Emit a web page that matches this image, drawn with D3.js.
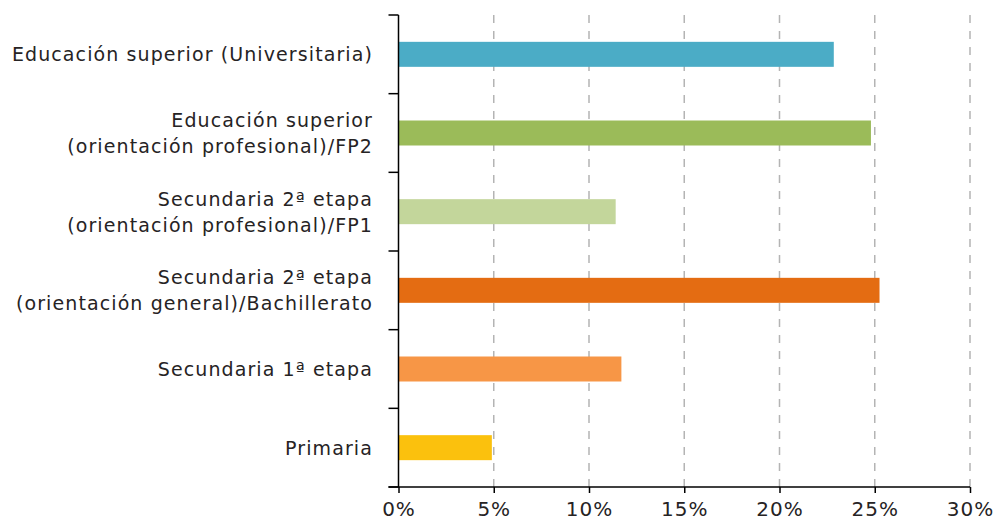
<!DOCTYPE html>
<html>
<head>
<meta charset="utf-8">
<script src="https://cdn.jsdelivr.net/npm/d3@7"></script>
<style>
  body { margin: 0; background: #fff; }
  text { font-family: "DejaVu Sans", sans-serif; fill: #262324; }
  .grid line { stroke: #b4b4b4; stroke-width: 1.5; stroke-dasharray: 8 8; }
</style>
</head>
<body>
<div id="chart"></div>
<script>
// categories top to bottom, each label split in lines
var categories = [
  ["Educación superior (Universitaria)"],
  ["Educación superior", "(orientación profesional)/FP2"],
  ["Secundaria 2ª etapa", "(orientación profesional)/FP1"],
  ["Secundaria 2ª etapa", "(orientación general)/Bachillerato"],
  ["Secundaria 1ª etapa"],
  ["Primaria"]
];
var values = [22.85, 24.8, 11.4, 25.25, 11.7, 4.9];
var colors = ["#4bacc6", "#9bbb59", "#c3d69b", "#e46c12", "#f79646", "#fbc10d"];
var xTicks = [0, 5, 10, 15, 20, 25, 30];

var width = 996, height = 521;
var margin = { top: 15, right: 26, bottom: 34, left: 398.5 };

var svg = d3.select("#chart")
    .append("svg")
    .attr("width", width)
    .attr("height", height)

var x = d3.scaleLinear()
    .domain([0, 30])
    .range([margin.left, width - margin.right])

var y = d3.scaleBand()
    .domain(d3.range(categories.length))
    .range([margin.top, height - margin.bottom])

// dashed gridlines
svg.append("g")
    .attr("class", "grid")
    .selectAll("line")
    .data(xTicks.slice(1))
    .enter()
    .append("line")
    .attr("x1", d => x(d))
    .attr("x2", d => x(d))
    .attr("y1", margin.top)
    .attr("y2", height - margin.bottom)

var barH = 25;
svg.selectAll("rect.bar")
    .data(values)
    .enter()
    .append("rect")
    .attr("class", "bar")
    .attr("x", x(0))
    .attr("y", (d, i) => y(i) + y.bandwidth() / 2 - barH / 2)
    .attr("width", d => x(d) - x(0))
    .attr("height", barH)
    .attr("fill", (d, i) => colors[i])

// y axis: line with ticks on band edges
var yAxis = svg.append("g")
var edges = d3.range(categories.length + 1).map(i => margin.top + i * y.bandwidth())
yAxis.append("line")
    .attr("x1", x(0)).attr("x2", x(0))
    .attr("y1", margin.top).attr("y2", height - margin.bottom)
    .attr("stroke", "#000").attr("stroke-width", 1.5)
yAxis.selectAll("line.tick")
    .data(edges)
    .enter()
    .append("line")
    .attr("class", "tick")
    .attr("x1", x(0) - 10).attr("x2", x(0))
    .attr("y1", d => d).attr("y2", d => d)
    .attr("stroke", "#000").attr("stroke-width", 1.5)

// category labels
var labels = svg.selectAll("text.cat")
    .data(categories)
    .enter()
    .append("text")
    .attr("class", "cat")
    .attr("text-anchor", "end")
    .attr("font-size", "19px")
    .attr("letter-spacing", "1.1px")
    .attr("transform", (d, i) => "translate(" + 373 + "," + (y(i) + y.bandwidth() / 2) + ")")
labels.selectAll("tspan")
    .data(d => d.map((t, j) => ({ t: t, j: j, n: d.length })))
    .enter()
    .append("tspan")
    .attr("x", 0)
    .attr("y", d => (d.j - (d.n - 1) / 2) * 26)
    .attr("dy", "0.37em")
    .text(d => d.t)

// x axis
var xAxis = d3.axisBottom(x)
    .tickValues(xTicks)
    .tickFormat(d => d + "%")
    .tickSize(6)
    .tickPadding(9)

var gx = svg.append("g")
    .attr("transform", "translate(0," + (height - margin.bottom) + ")")
    .call(xAxis)
gx.select(".domain").attr("stroke", "#000").attr("stroke-width", 1.5)
    .attr("d", "M" + (x(0) - 10) + ",0H" + x(30))
gx.selectAll(".tick line").attr("stroke", "#000").attr("stroke-width", 1.5)
gx.selectAll(".tick text")
    .attr("font-size", "20px")
    .attr("letter-spacing", "1px")
    .attr("font-family", "DejaVu Sans, sans-serif")
    .attr("fill", "#262324")
</script>
</body>
</html>
